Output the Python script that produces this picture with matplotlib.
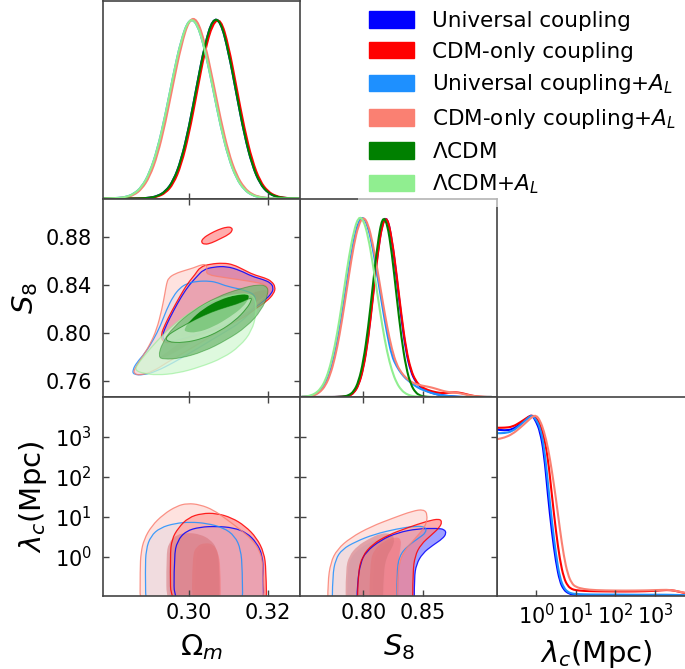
import numpy as np
import matplotlib
matplotlib.use("Agg")
import matplotlib.pyplot as plt
from matplotlib.path import Path
from matplotlib.patches import PathPatch, Patch
from matplotlib.ticker import FixedLocator, NullLocator, LogFormatterMathtext, FormatStrFormatter

# ---- runs ------------------------------------------------------------------
labels = ['Universal coupling', 'CDM-only coupling', r'Universal coupling+$A_L$',
          r'CDM-only coupling+$A_L$', r'$\Lambda$CDM', r'$\Lambda$CDM+$A_L$']
colors = ['blue', 'red', '#1e90ff', 'salmon', 'green', 'lightgreen']

# ---- 1D marginals (normalised to peak 1) -----------------------------------
om_grid = [0.278, 0.280, 0.282, 0.284, 0.286, 0.288, 0.290, 0.292, 0.294, 0.296, 0.298, 0.300, 0.302,
           0.304, 0.306, 0.308, 0.310, 0.312, 0.314, 0.316, 0.318, 0.320, 0.322, 0.324, 0.326, 0.328]
om_univ = [0, 0, 0, 0, 0, 0.001, 0.004, 0.013, 0.038, 0.097, 0.212, 0.397, 0.631,
           0.855, 1.0, 0.985, 0.815, 0.582, 0.355, 0.184, 0.081, 0.031, 0.010, 0.003, 0.001, 0]
om_cdm = [0, 0, 0, 0, 0, 0.001, 0.003, 0.010, 0.030, 0.080, 0.185, 0.360, 0.590,
          0.820, 0.975, 1.0, 0.850, 0.620, 0.390, 0.210, 0.095, 0.038, 0.013, 0.004, 0.001, 0]
om_univ_al = [0, 0.001, 0.003, 0.008, 0.025, 0.063, 0.141, 0.273, 0.463, 0.685, 0.882, 1.0, 0.978,
              0.830, 0.619, 0.401, 0.227, 0.112, 0.048, 0.018, 0.006, 0.002, 0, 0, 0, 0]
om_cdm_al = [0, 0.001, 0.002, 0.006, 0.019, 0.052, 0.120, 0.240, 0.420, 0.640, 0.850, 0.995, 1.0,
             0.865, 0.660, 0.440, 0.255, 0.130, 0.058, 0.022, 0.008, 0.002, 0, 0, 0, 0]
om_lcdm = om_univ
om_lcdm_al = om_univ_al

s8_grid = [0.748, 0.752, 0.756, 0.760, 0.764, 0.768, 0.772, 0.776, 0.780, 0.784, 0.788, 0.792, 0.796, 0.800,
           0.804, 0.808, 0.812, 0.816, 0.820, 0.824, 0.828, 0.832, 0.836, 0.840, 0.844, 0.848, 0.852, 0.856,
           0.860, 0.864, 0.868, 0.872, 0.876, 0.880, 0.884, 0.888, 0.892, 0.896, 0.900, 0.904, 0.908]
s8_univ = [0, 0, 0, 0, 0, 0, 0, 0, 0.001, 0.002, 0.007, 0.024, 0.068, 0.163,
           0.327, 0.557, 0.799, 0.967, 1.0, 0.873, 0.665, 0.436, 0.249, 0.140, 0.085, 0.055, 0.038, 0.027,
           0.018, 0.012, 0.008, 0.005, 0.003, 0.001, 0, 0, 0, 0, 0, 0, 0]
s8_cdm = [0, 0, 0, 0, 0, 0, 0, 0, 0.001, 0.002, 0.006, 0.022, 0.064, 0.155,
          0.315, 0.545, 0.790, 0.962, 1.0, 0.880, 0.680, 0.455, 0.265, 0.150, 0.090, 0.060, 0.045, 0.035,
          0.028, 0.023, 0.022, 0.024, 0.026, 0.025, 0.020, 0.013, 0.007, 0.003, 0.001, 0, 0]
s8_univ_al = [0.001, 0.002, 0.006, 0.015, 0.035, 0.071, 0.135, 0.235, 0.372, 0.540, 0.718, 0.874, 0.976, 1.0,
              0.943, 0.825, 0.667, 0.503, 0.350, 0.227, 0.170, 0.130, 0.100, 0.080, 0.060, 0.045, 0.035, 0.025,
              0.018, 0.012, 0.008, 0.005, 0.003, 0.001, 0, 0, 0, 0, 0, 0, 0]
s8_cdm_al = [0.001, 0.002, 0.005, 0.013, 0.030, 0.062, 0.120, 0.213, 0.343, 0.505, 0.680, 0.843, 0.955, 1.0,
             0.960, 0.850, 0.700, 0.540, 0.390, 0.265, 0.180, 0.135, 0.105, 0.085, 0.072, 0.065, 0.060, 0.055,
             0.048, 0.040, 0.032, 0.027, 0.025, 0.022, 0.017, 0.011, 0.006, 0.003, 0.001, 0, 0]
s8_lcdm = [0, 0, 0, 0, 0, 0, 0, 0, 0.001, 0.003, 0.010, 0.031, 0.085, 0.197,
           0.380, 0.618, 0.851, 1.0, 0.967, 0.799, 0.557, 0.329, 0.162, 0.068, 0.024, 0.007, 0.002, 0,
           0, 0, 0, 0, 0, 0, 0, 0, 0, 0, 0, 0, 0]
s8_lcdm_al = [0.001, 0.003, 0.009, 0.021, 0.046, 0.091, 0.168, 0.282, 0.430, 0.607, 0.782, 0.920, 1.0, 0.983,
              0.891, 0.738, 0.563, 0.392, 0.249, 0.146, 0.078, 0.038, 0.017, 0.007, 0.003, 0.001, 0, 0,
              0, 0, 0, 0, 0, 0, 0, 0, 0, 0, 0, 0, 0]

# lambda_c grid in log10(Mpc)
lam_log = [-1.0, -0.8, -0.6, -0.4, -0.2, -0.1, 0.0, 0.1, 0.2, 0.3, 0.4, 0.5, 0.6,
           0.7, 0.8, 0.9, 1.0, 1.2, 1.5, 2.0, 2.5, 3.0, 3.3, 3.5, 3.7, 4.0]
lam_univ = [0.92, 0.915, 0.92, 0.95, 0.99, 1.0, 0.965, 0.91, 0.79, 0.554, 0.35, 0.19, 0.08,
            0.035, 0.017, 0.009, 0.005, 0.002, 0.001, 0, 0, 0, 0, 0, 0, 0]
lam_cdm = [0.93, 0.93, 0.935, 0.96, 0.99, 1.0, 0.985, 0.95, 0.88, 0.76, 0.554, 0.36, 0.20,
           0.10, 0.055, 0.038, 0.032, 0.028, 0.026, 0.025, 0.025, 0.028, 0.034, 0.030, 0.018, 0.008]
lam_univ_al = [0.90, 0.90, 0.91, 0.945, 0.985, 1.0, 0.975, 0.93, 0.83, 0.62, 0.41, 0.23, 0.10,
               0.045, 0.022, 0.014, 0.011, 0.009, 0.008, 0.008, 0.007, 0.007, 0.007, 0.006, 0.005, 0.004]
lam_cdm_al = [0.866, 0.875, 0.895, 0.93, 0.97, 0.99, 1.0, 0.97, 0.91, 0.82, 0.69, 0.54, 0.37,
              0.22, 0.12, 0.07, 0.05, 0.038, 0.032, 0.030, 0.030, 0.032, 0.035, 0.030, 0.020, 0.010]

# ---- 2D contour boundaries: (Omega_m, S8) ---------------------------------
om_s8_univ_95 = [(0.3019, 0.8470), (0.3036, 0.8531), (0.3062, 0.8553), (0.3095, 0.8559), (0.3129, 0.8525),
                 (0.3159, 0.8475), (0.3188, 0.8448), (0.3207, 0.8420), (0.3214, 0.8378), (0.3209, 0.8331),
                 (0.3192, 0.8275), (0.3167, 0.8217), (0.3142, 0.8156), (0.3108, 0.8092), (0.3070, 0.8039),
                 (0.3028, 0.7997), (0.2986, 0.7956), (0.2950, 0.7925), (0.2935, 0.7942), (0.2933, 0.7989),
                 (0.2943, 0.8072), (0.2960, 0.8184), (0.2981, 0.8309), (0.3001, 0.8406)]
om_s8_cdm_95 = [(0.3015, 0.8489), (0.3028, 0.8553), (0.3053, 0.8578), (0.3087, 0.8587), (0.3112, 0.8573),
                (0.3138, 0.8531), (0.3163, 0.8489), (0.3192, 0.8462), (0.3209, 0.8434), (0.3219, 0.8386),
                (0.3215, 0.8331), (0.3197, 0.8267), (0.3171, 0.8211), (0.3146, 0.8147), (0.3112, 0.8086),
                (0.3070, 0.8031), (0.3028, 0.7989), (0.2986, 0.7947), (0.2948, 0.7914), (0.2932, 0.7933),
                (0.2929, 0.7989), (0.2939, 0.8072), (0.2956, 0.8184), (0.2977, 0.8309), (0.2996, 0.8414)]
om_s8_cdm_95_island = [(0.3030, 0.8759), (0.3036, 0.8795), (0.3053, 0.8831), (0.3074, 0.8865), (0.3095, 0.8887),
                       (0.3108, 0.8884), (0.3110, 0.8856), (0.3100, 0.8823), (0.3078, 0.8787), (0.3057, 0.8753),
                       (0.3040, 0.8740)]
om_s8_coupling_68 = [(0.2977, 0.8000), (0.3011, 0.8070), (0.3053, 0.8153), (0.3095, 0.8236), (0.3138, 0.8305),
                     (0.3180, 0.8360), (0.3201, 0.8360), (0.3197, 0.8314), (0.3163, 0.8250), (0.3121, 0.8170),
                     (0.3078, 0.8095), (0.3036, 0.8031), (0.2998, 0.7975), (0.2979, 0.7967)]
om_s8_univ_al_95 = [(0.2994, 0.8414), (0.3019, 0.8434), (0.3053, 0.8436), (0.3074, 0.8420), (0.3095, 0.8392),
                    (0.3146, 0.8356), (0.3171, 0.8309), (0.3163, 0.8197), (0.3129, 0.8086), (0.3087, 0.8003),
                    (0.3045, 0.7919), (0.3003, 0.7836), (0.2960, 0.7753), (0.2918, 0.7683), (0.2884, 0.7650),
                    (0.2859, 0.7655), (0.2857, 0.7691), (0.2867, 0.7753), (0.2889, 0.7836), (0.2910, 0.7947),
                    (0.2927, 0.8058), (0.2943, 0.8197), (0.2960, 0.8309), (0.2977, 0.8378)]
om_s8_cdm_al_95 = [(0.2943, 0.8414), (0.2948, 0.8462), (0.2965, 0.8498), (0.2990, 0.8525), (0.3011, 0.8545),
                   (0.3032, 0.8573), (0.3043, 0.8573), (0.3046, 0.8537), (0.3043, 0.8489), (0.3095, 0.8462),
                   (0.3154, 0.8434), (0.3197, 0.8406), (0.3201, 0.8336), (0.3180, 0.8253), (0.3146, 0.8170),
                   (0.3112, 0.8086), (0.3070, 0.8003), (0.3028, 0.7919), (0.2986, 0.7836), (0.2943, 0.7753),
                   (0.2910, 0.7683), (0.2876, 0.7647), (0.2859, 0.7664), (0.2863, 0.7711), (0.2880, 0.7794),
                   (0.2901, 0.7905), (0.2918, 0.8031), (0.2931, 0.8197), (0.2939, 0.8336)]
om_s8_al_68 = [(0.2943, 0.7836), (0.2986, 0.7947), (0.3028, 0.8045), (0.3070, 0.8128), (0.3112, 0.8211),
               (0.3138, 0.8253), (0.3146, 0.8211), (0.3104, 0.8128), (0.3062, 0.8031), (0.3019, 0.7947),
               (0.2977, 0.7864), (0.2939, 0.7794), (0.2922, 0.7794)]
om_s8_lcdm_95 = [(0.2922, 0.7803), (0.2935, 0.7781), (0.2977, 0.7789), (0.3036, 0.7844), (0.3095, 0.7942),
                 (0.3146, 0.8053), (0.3184, 0.8192), (0.3201, 0.8330), (0.3198, 0.8392), (0.3175, 0.8408),
                 (0.3129, 0.8372), (0.3070, 0.8303), (0.3011, 0.8192), (0.2960, 0.8053), (0.2931, 0.7914)]
om_s8_lcdm_68 = [(0.2990, 0.8011), (0.3019, 0.8003), (0.3062, 0.8053), (0.3104, 0.8136), (0.3137, 0.8219),
                 (0.3153, 0.8297), (0.3148, 0.8330), (0.3121, 0.8322), (0.3078, 0.8280), (0.3036, 0.8205),
                 (0.3003, 0.8108), (0.2988, 0.8039)]
om_s8_lcdm_al_95 = [(0.2863, 0.7691), (0.2884, 0.7664), (0.2918, 0.7650), (0.2969, 0.7664), (0.3028, 0.7717),
                    (0.3087, 0.7794), (0.3129, 0.7892), (0.3159, 0.8017), (0.3171, 0.8170), (0.3168, 0.8295),
                    (0.3150, 0.8331), (0.3116, 0.8322), (0.3078, 0.8295), (0.3036, 0.8239), (0.2994, 0.8156),
                    (0.2952, 0.8045), (0.2918, 0.7933), (0.2889, 0.7822), (0.2869, 0.7739)]
om_s8_lcdm_al_68 = [(0.2943, 0.7928), (0.2986, 0.7919), (0.3036, 0.7956), (0.3078, 0.8019), (0.3116, 0.8103),
                    (0.3146, 0.8205), (0.3159, 0.8280), (0.3156, 0.8297), (0.3129, 0.8253), (0.3095, 0.8219),
                    (0.3057, 0.8178), (0.3015, 0.8114), (0.2973, 0.8039), (0.2942, 0.7975)]

# ---- 2D contour boundaries: (Omega_m, log10 lambda_c) ----------------------
om_lam_univ_95 = [(0.2962, -1.475), (0.2962, 0.025), (0.2970, 0.400), (0.2992, 0.650), (0.3028, 0.750),
                  (0.3070, 0.767), (0.3112, 0.733), (0.3146, 0.608), (0.3171, 0.358), (0.3186, 0.042),
                  (0.3188, -0.392), (0.3189, -1.475)]
om_lam_univ_68 = [(0.3015, -1.475), (0.3016, 0.025), (0.3028, 0.233), (0.3045, 0.292), (0.3064, 0.233),
                  (0.3074, 0.025), (0.3078, -0.308), (0.3079, -1.475)]
om_lam_cdm_95 = [(0.2954, -1.475), (0.2952, 0.025), (0.2956, 0.442), (0.2973, 0.733), (0.2998, 0.983),
                 (0.3032, 1.092), (0.3070, 1.092), (0.3108, 0.983), (0.3142, 0.775), (0.3171, 0.483),
                 (0.3190, 0.108), (0.3195, -0.308), (0.3197, -1.475)]
om_lam_cdm_68 = [(0.3007, -1.475), (0.3008, 0.025), (0.3019, 0.275), (0.3040, 0.358), (0.3062, 0.317),
                 (0.3074, 0.108), (0.3080, -0.225), (0.3081, -1.475)]
om_lam_univ_al_95 = [(0.2891, -1.475), (0.2889, -0.308), (0.2891, 0.192), (0.2903, 0.525), (0.2927, 0.733),
                     (0.2965, 0.842), (0.3003, 0.875), (0.3045, 0.842), (0.3087, 0.733), (0.3116, 0.525),
                     (0.3131, 0.192), (0.3135, -0.308), (0.3136, -1.475)]
om_lam_univ_al_68 = [(0.2948, -1.475), (0.2948, 0.025), (0.2956, 0.317), (0.2981, 0.483), (0.3015, 0.508),
                     (0.3045, 0.442), (0.3066, 0.275), (0.3074, -0.058), (0.3076, -1.475)]
om_lam_cdm_al_95 = [(0.2876, -1.475), (0.2876, -0.308), (0.2878, 0.108), (0.2886, 0.442), (0.2905, 0.775),
                    (0.2935, 1.067), (0.2969, 1.275), (0.2996, 1.342), (0.3028, 1.308), (0.3062, 1.175),
                    (0.3095, 0.942), (0.3129, 0.692), (0.3159, 0.442), (0.3180, 0.150), (0.3188, -0.225),
                    (0.3191, -1.475)]
om_lam_cdm_al_68 = [(0.2943, -1.475), (0.2942, 0.025), (0.2948, 0.358), (0.2969, 0.567), (0.2998, 0.608),
                    (0.3028, 0.567), (0.3053, 0.442), (0.3070, 0.233), (0.3077, -0.142), (0.3078, -1.475)]

# ---- 2D contour boundaries: (S8, log10 lambda_c) ---------------------------
s8_lam_univ_95 = [(0.7944, -1.475), (0.7949, -0.642), (0.7977, -0.142), (0.8020, 0.125), (0.8147, 0.425),
                  (0.8288, 0.608), (0.8457, 0.708), (0.8626, 0.717), (0.8682, 0.692), (0.8699, 0.592),
                  (0.8668, 0.458), (0.8584, 0.292), (0.8499, 0.092), (0.8446, -0.183), (0.8429, -0.517),
                  (0.8429, -1.475)]
s8_lam_univ_68 = [(0.8076, -1.475), (0.8085, -0.142), (0.8118, 0.150), (0.8189, 0.342), (0.8282, 0.442),
                  (0.8324, 0.375), (0.8316, 0.150), (0.8299, -0.183), (0.8296, -1.475)]
s8_lam_cdm_95 = [(0.7949, -1.475), (0.7955, -0.392), (0.7992, 0.025), (0.8076, 0.317), (0.8203, 0.542),
                 (0.8372, 0.733), (0.8541, 0.900), (0.8640, 0.958), (0.8663, 0.875), (0.8640, 0.733),
                 (0.8570, 0.542), (0.8485, 0.317), (0.8434, 0.025), (0.8417, -0.392), (0.8415, -1.475)]
s8_lam_cdm_68 = [(0.8048, -1.475), (0.8056, -0.142), (0.8090, 0.192), (0.8175, 0.400), (0.8274, 0.508),
                 (0.8321, 0.442), (0.8310, 0.192), (0.8293, -0.142), (0.8290, -1.475)]
s8_lam_univ_al_95 = [(0.7738, -1.475), (0.7741, -0.475), (0.7766, -0.058), (0.7822, 0.192), (0.7935, 0.383),
                     (0.8090, 0.567), (0.8288, 0.708), (0.8443, 0.775), (0.8527, 0.750), (0.8527, 0.608),
                     (0.8471, 0.483), (0.8372, 0.275), (0.8302, 0.025), (0.8282, -0.392), (0.8282, -1.475)]
s8_lam_univ_al_68 = [(0.7865, -1.475), (0.7865, -0.308), (0.7893, -0.017), (0.7963, 0.208), (0.8062, 0.375),
                     (0.8161, 0.483), (0.8231, 0.458), (0.8245, 0.317), (0.8209, 0.108), (0.8180, -0.308),
                     (0.8175, -1.475)]
s8_lam_cdm_al_95 = [(0.7701, -1.475), (0.7701, -0.642), (0.7724, -0.142), (0.7780, 0.192), (0.7893, 0.483),
                    (0.8062, 0.758), (0.8259, 0.983), (0.8415, 1.150), (0.8508, 1.192), (0.8541, 1.067),
                    (0.8527, 0.775), (0.8429, 0.442), (0.8344, 0.150), (0.8302, -0.142), (0.8288, -0.558),
                    (0.8282, -1.475)]
s8_lam_cdm_al_68 = [(0.7851, -1.475), (0.7851, -0.308), (0.7879, 0.025), (0.7949, 0.275), (0.8048, 0.458),
                    (0.8147, 0.592), (0.8231, 0.592), (0.8265, 0.458), (0.8245, 0.233), (0.8197, 0.025),
                    (0.8169, -0.392), (0.8164, -1.475)]

om_lim = (0.2782, 0.3281)
s8_lim = (0.7467, 0.9125)
lam_lim = (10 ** -0.975, 10 ** 4.0)

# fill style per run: (pale factor of 95% fill, alpha 95%, 68% colour, alpha 68%)
fill_style = {
    'blue': (0.5, 0.75, 'blue', 0.2),
    'red': (0.5, 0.65, 'red', 0.35),
    '#1e90ff': (0.5, 0.2, '#1e90ff', 0.15),
    'salmon': (0.5, 0.45, '#d6737a', 0.55),
}


def smooth_path(pts, logy=False):
    # closed quadratic Bezier through the edge midpoints, rounds the outline
    p = np.asarray(pts, dtype=float)
    mid = (p + np.roll(p, -1, axis=0)) / 2
    verts = [mid[-1]]
    codes = [Path.MOVETO]
    for k in range(len(p)):
        verts += [p[k], mid[k]]
        codes += [Path.CURVE3, Path.CURVE3]
    verts.append(mid[-1])
    codes.append(Path.CLOSEPOLY)
    verts = np.array(verts)
    if logy:
        verts[:, 1] = 10 ** verts[:, 1]
    return Path(verts, codes)


def smooth_line(xs, ys, logx=False):
    # open version of the above for the 1D marginals
    p = np.column_stack([xs, ys]).astype(float)
    mid = (p[:-1] + p[1:]) / 2
    verts = [p[0], mid[0]]
    codes = [Path.MOVETO, Path.LINETO]
    for k in range(1, len(p) - 1):
        verts += [p[k], mid[k]]
        codes += [Path.CURVE3, Path.CURVE3]
    verts.append(p[-1])
    codes.append(Path.LINETO)
    verts = np.array(verts)
    if logx:
        verts[:, 0] = 10 ** verts[:, 0]
    return Path(verts, codes)


def pale(c, f=0.6):
    r, g, b = matplotlib.colors.to_rgb(c)
    return (r * (1 - f) + f, g * (1 - f) + f, b * (1 - f) + f)


def fill_run(ax, outer, inner, color, logy=False, extra=()):
    f, a2, c1, a1 = fill_style[color]
    for pts in [outer] + list(extra):
        ax.add_patch(PathPatch(smooth_path(pts, logy), facecolor=pale(color, f), edgecolor='none', alpha=a2))
    ax.add_patch(PathPatch(smooth_path(inner, logy), facecolor=c1, edgecolor='none', alpha=a1))


def outline(ax, pts, color, logy=False, lw=0.9, alpha=0.85):
    ax.add_patch(PathPatch(smooth_path(pts, logy), facecolor='none', edgecolor=color, lw=lw, alpha=alpha))


def plot_1d(ax, xs, ys, color, logx=False):
    ax.add_patch(PathPatch(smooth_line(xs, ys, logx), facecolor='none', edgecolor=color, lw=1.5))


W, H = 685, 669
fig = plt.figure(figsize=(W / 100, H / 100), dpi=100)
col_x = [103, 300, 497.5]
col_w = 197
row_y = [0.5, 198.5, 397, 596]

tick_fs = 15
label_fs = 21
spine_col = '#444444'


def make_panel(i, j):
    ax = fig.add_axes([col_x[j] / W, 1 - row_y[i + 1] / H, col_w / W, (row_y[i + 1] - row_y[i]) / H])
    for s in ax.spines.values():
        s.set_color(spine_col)
        s.set_linewidth(1.2)
    ax.tick_params(direction='in', length=4, width=1, color=spine_col, labelsize=tick_fs)
    ax.tick_params(axis='x', pad=5)
    ax.tick_params(axis='y', pad=8)
    return ax


def lam_axis(axis):
    axis.set_major_locator(FixedLocator([1, 10, 100, 1000]))
    axis.set_minor_locator(NullLocator())
    axis.set_major_formatter(LogFormatterMathtext())


# 1D: Omega_m
ax = make_panel(0, 0)
for y, c in zip([om_univ, om_cdm, om_univ_al, om_cdm_al, om_lcdm, om_lcdm_al], colors):
    plot_1d(ax, om_grid, y, c)
ax.set_xlim(*om_lim)
ax.set_ylim(0, 1.1)
ax.xaxis.set_major_locator(FixedLocator([0.30, 0.32]))
ax.tick_params(labelbottom=False, left=False, labelleft=False)

# 1D: S8
ax = make_panel(1, 1)
for y, c in zip([s8_univ, s8_cdm, s8_univ_al, s8_cdm_al, s8_lcdm, s8_lcdm_al], colors):
    plot_1d(ax, s8_grid, y, c)
ax.set_xlim(*s8_lim)
ax.set_ylim(0, 1.1)
ax.xaxis.set_major_locator(FixedLocator([0.80, 0.85]))
ax.tick_params(labelbottom=False, left=False, labelleft=False)

# 1D: lambda_c
ax = make_panel(2, 2)
ax.set_xscale('log')
for y, c in zip([lam_univ, lam_cdm, lam_univ_al, lam_cdm_al], colors[:4]):
    plot_1d(ax, lam_log, y, c, logx=True)
ax.set_xlim(*lam_lim)
ax.set_ylim(0, 1.1)
lam_axis(ax.xaxis)
ax.tick_params(left=False, labelleft=False)
ax.set_xlabel(r'$\lambda_c$(Mpc)', fontsize=label_fs, labelpad=7)

# 2D: Omega_m - S8
ax = make_panel(1, 0)
fill_run(ax, om_s8_univ_95, om_s8_coupling_68, colors[0])
fill_run(ax, om_s8_univ_al_95, om_s8_al_68, colors[2])
fill_run(ax, om_s8_cdm_95, om_s8_coupling_68, colors[1], extra=[om_s8_cdm_95_island])
fill_run(ax, om_s8_cdm_al_95, om_s8_al_68, colors[3])
for pts, c in [(om_s8_univ_95, colors[0]), (om_s8_univ_al_95, colors[2]), (om_s8_cdm_95, colors[1]),
               (om_s8_cdm_95_island, colors[1]), (om_s8_cdm_al_95, colors[3])]:
    outline(ax, pts, c)
# LCDM runs on top
ax.add_patch(PathPatch(smooth_path(om_s8_lcdm_al_95), facecolor=pale('lightgreen', 0.6), edgecolor='none', alpha=0.75))
ax.add_patch(PathPatch(smooth_path(om_s8_lcdm_95), facecolor=pale('green', 0.45), edgecolor='none', alpha=0.75))
ax.add_patch(PathPatch(smooth_path(om_s8_lcdm_68), facecolor='green', edgecolor='none', alpha=0.95))
ax.add_patch(PathPatch(smooth_path(om_s8_lcdm_al_68), facecolor=pale('lightgreen', 0.6), edgecolor='none', alpha=0.6))
outline(ax, om_s8_lcdm_al_95, 'lightgreen', alpha=0.6)
outline(ax, om_s8_lcdm_95, 'green', lw=0.7, alpha=0.4)
outline(ax, om_s8_lcdm_al_68, 'green', lw=0.7, alpha=0.6)
ax.set_xlim(*om_lim)
ax.set_ylim(*s8_lim)
ax.xaxis.set_major_locator(FixedLocator([0.30, 0.32]))
ax.yaxis.set_major_locator(FixedLocator([0.76, 0.80, 0.84, 0.88]))
ax.yaxis.set_major_formatter(FormatStrFormatter('%.2f'))
ax.tick_params(top=True, right=True, labelbottom=False)
ax.set_ylabel(r'$S_8$', fontsize=label_fs, labelpad=4)

# 2D: Omega_m - lambda_c
ax = make_panel(2, 0)
ax.set_yscale('log')
fill_run(ax, om_lam_univ_95, om_lam_univ_68, colors[0], logy=True)
fill_run(ax, om_lam_univ_al_95, om_lam_univ_al_68, colors[2], logy=True)
fill_run(ax, om_lam_cdm_95, om_lam_cdm_68, colors[1], logy=True)
fill_run(ax, om_lam_cdm_al_95, om_lam_cdm_al_68, colors[3], logy=True)
for pts, c in [(om_lam_univ_95, colors[0]), (om_lam_univ_al_95, colors[2]), (om_lam_cdm_95, colors[1]),
               (om_lam_cdm_al_95, colors[3])]:
    outline(ax, pts, c, logy=True)
ax.set_xlim(*om_lim)
ax.set_ylim(*lam_lim)
ax.xaxis.set_major_locator(FixedLocator([0.30, 0.32]))
ax.xaxis.set_major_formatter(FormatStrFormatter('%.2f'))
lam_axis(ax.yaxis)
ax.tick_params(top=True, right=True)
ax.set_xlabel(r'$\Omega_m$', fontsize=label_fs, labelpad=7)
ax.set_ylabel(r'$\lambda_c$(Mpc)', fontsize=label_fs, labelpad=4)

# 2D: S8 - lambda_c
ax = make_panel(2, 1)
ax.set_yscale('log')
fill_run(ax, s8_lam_univ_95, s8_lam_univ_68, colors[0], logy=True)
fill_run(ax, s8_lam_univ_al_95, s8_lam_univ_al_68, colors[2], logy=True)
fill_run(ax, s8_lam_cdm_95, s8_lam_cdm_68, colors[1], logy=True)
fill_run(ax, s8_lam_cdm_al_95, s8_lam_cdm_al_68, colors[3], logy=True)
for pts, c in [(s8_lam_univ_95, colors[0]), (s8_lam_univ_al_95, colors[2]), (s8_lam_cdm_95, colors[1]),
               (s8_lam_cdm_al_95, colors[3])]:
    outline(ax, pts, c, logy=True)
ax.set_xlim(*s8_lim)
ax.set_ylim(*lam_lim)
ax.xaxis.set_major_locator(FixedLocator([0.80, 0.85]))
ax.xaxis.set_major_formatter(FormatStrFormatter('%.2f'))
lam_axis(ax.yaxis)
ax.tick_params(top=True, right=True, labelleft=False)
ax.set_xlabel(r'$S_8$', fontsize=label_fs, labelpad=7)

handles = [Patch(facecolor=c, edgecolor=c) for c in colors]
fig.legend(handles, labels, loc='upper left', bbox_to_anchor=(358 / W, 1.0), fontsize=15.5,
           handlelength=2.1, handleheight=0.8, handletextpad=0.85, labelspacing=0.5,
           borderpad=0.5, borderaxespad=0, frameon=True, framealpha=0.6, facecolor='white',
           edgecolor='none', fancybox=False)

fig.savefig('out.png', dpi=100)
